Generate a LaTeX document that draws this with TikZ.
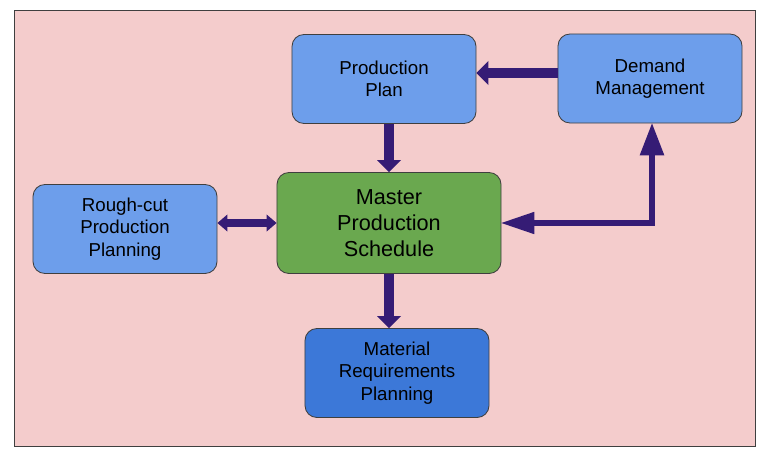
\documentclass[tikz,border=0pt]{standalone}
\usepackage{xcolor}
\usepackage{fontspec}
\setmainfont{Liberation Sans}
\usepackage{tikz}
\usetikzlibrary{arrows.meta}

\definecolor{bgpink}{HTML}{F4CCCC}
\definecolor{planblue}{HTML}{6D9EEB}
\definecolor{mrpblue}{HTML}{3C78D8}
\definecolor{mpsgreen}{HTML}{6AA84F}
\definecolor{flowpurple}{HTML}{351C75}
\definecolor{edgegray}{HTML}{3F3F3F}

\begin{document}
\begin{tikzpicture}[x=0.025cm, y=-0.025cm,
    planbox/.style={draw=edgegray, line width=0.6pt, rectangle, rounded corners=0.3cm, fill=planblue, align=center,
      minimum width=4.6cm, minimum height=2.225cm, inner sep=0pt, font=\fontsize{13.3}{15.8}\selectfont},
    flow/.style={flowpurple, line width=0.25cm, -{Triangle[length=0.3cm, width=0.6cm, line width=0pt]}},
    link/.style={flowpurple, line width=0.18cm, {Triangle[length=0.25cm, width=0.43cm, line width=0pt]}-{Triangle[length=0.25cm, width=0.43cm, line width=0pt]}},
    feedback/.style={flowpurple, line width=0.15cm, {Triangle[length=0.82cm, width=0.56cm, line width=0pt]}-{Triangle[length=0.8cm, width=0.62cm, line width=0pt]}}]
                  \useasboundingbox (0,0) rectangle (768,461);
                  % Background
                  \draw [draw=edgegray, line width=0.6pt, fill=bgpink] (14,10) rectangle (755,446);

                  % Planning boxes
                  \node [planbox] (plan) at (384,79) {Production\\Plan};
                  \node [planbox] (demand) at (650,78.5) {Demand\\Management};
                  \node [planbox, fill=mpsgreen, minimum width=5.6cm, minimum height=2.525cm,
                         font=\fontsize{15.4}{18.7}\selectfont] (mps) at (389,223) {Master\\Production\\Schedule};
                  \node [planbox] (roughcut) at (125,229) {Rough-cut\\Production\\Planning};
                  \node [planbox, fill=mrpblue] (mrp) at (397,373) {Material\\Requirements\\Planning};

                  % Arrows
                  \draw [flow] (demand.west |- 0,73) -- (plan.east |- 0,73);
                  \draw [flow] (mps.north |- plan.south) -- (mps.north);
                  \draw [flow] (mps.south) -- (mps.south |- mrp.north);
                  \draw [link] (roughcut.east |- mps.west) -- (mps.west);
                  \draw [feedback] (mps.east) -- (mps.east -| 652,0) -- (652,0 |- demand.south);
              \end{tikzpicture}
\end{document}
